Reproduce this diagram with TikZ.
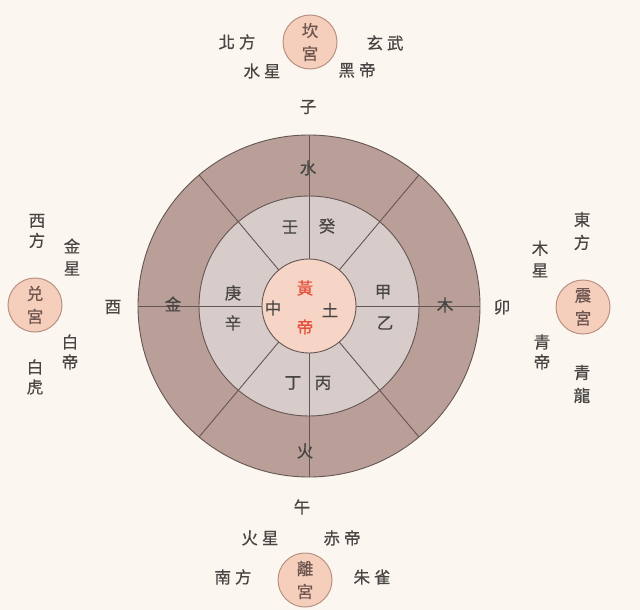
\documentclass[tikz,border=0pt]{standalone}
\usepackage{fontspec}
\usetikzlibrary{calc}
\newfontfamily\cjk[FakeBold=0.6]{Noto Sans CJK TC}
\definecolor{bgc}{RGB}{251,247,240}
\definecolor{outerc}{RGB}{185,159,152}
\definecolor{midc}{RGB}{215,204,202}
\definecolor{innerc}{RGB}{246,212,198}
\definecolor{linec}{RGB}{100,86,84}
\definecolor{txt}{RGB}{72,70,68}
\definecolor{redt}{RGB}{228,80,58}
\definecolor{palfill}{RGB}{245,206,188}
\definecolor{paldraw}{RGB}{185,145,130}
\definecolor{paltxt}{RGB}{110,86,80}
\tikzset{
  lbl/.style={font=\cjk\fontsize{16.5}{20}\selectfont, text=txt, inner sep=0pt, align=center},
  palace/.style={circle, minimum size=54pt, inner sep=0pt, fill=palfill, draw=paldraw, line width=1pt,
    font=\cjk\fontsize{16.5}{23}\selectfont, text=paltxt, align=center},
  ring/.style={draw=linec, line width=0.9pt},
  spoke/.style={draw=linec, line width=0.9pt},
  redlbl/.style={lbl, text=redt}
}
\begin{document}
\begin{tikzpicture}[x=1pt,y=-1pt]
\fill[bgc] (0,0) rectangle (640,610);
\useasboundingbox (0,0) rectangle (640,610);
\coordinate (c) at (309,306);
\fill[outerc, ring] (c) circle[radius=171];
\fill[midc, ring] (c) circle[radius=110];
\fill[innerc, ring] (c) circle[radius=47];
\foreach \a in {0,50,90,130,180,230,270,310}
  \draw[spoke] ($(c)+(\a:47)$) -- ($(c)+(\a:171)$);
% outer ring
\node[lbl] (shui) at (308,168) {水};
\node[lbl] (jin) at (173,304) {金};
\node[lbl] (mu) at (445,305) {木};
\node[lbl] (huo) at (305,451) {火};
% middle ring
\node[lbl] (ren) at (290,227) {壬};
\node[lbl] (gui) at (327,226) {癸};
\node[lbl] (geng) at (233,293) {庚};
\node[lbl] (xin) at (233,323) {辛};
\node[lbl] (jia) at (383,292) {甲};
\node[lbl] (yi) at (385,323) {乙};
\node[lbl] (ding) at (293,383) {丁};
\node[lbl] (bing) at (323,383) {丙};
% center
\node[redlbl] (huang) at (305,288) {黃};
\node[redlbl] (di) at (305,327) {帝};
\node[lbl] (zhong) at (273,308) {中};
\node[lbl] (tu) at (330,310) {土};
% top
\node[palace] (kan) at (310,42) {坎\\宮};
\node[lbl] (beifang) at (237,42) {北\hspace{4pt}方};
\node[lbl] (xuanwu) at (385,43) {玄\hspace{4pt}武};
\node[lbl] (shuixing) at (262,71) {水\hspace{4pt}星};
\node[lbl] (heidi) at (357,70) {黑\hspace{4pt}帝};
\node[lbl] (zi) at (308,107) {子};
% left
\node[palace] (dui) at (35,305) {兑\\宮};
\node[lbl] (xifang) at (37,231) {西\\方};
\node[lbl] (jinxing) at (72,257) {金\\[2pt]星};
\node[lbl] (you) at (113,307) {酉};
\node[lbl] (baidi) at (70,352) {白\\帝};
\node[lbl] (baihu) at (35,377) {白\\虎};
% right
\node[palace] (zhen) at (583,307) {震\\宮};
\node[lbl] (dongfang) at (582,231) {東\\[3pt]方};
\node[lbl] (muxing) at (540,259) {木\\[2pt]星};
\node[lbl] (mao) at (502,307) {卯};
\node[lbl] (qingdi) at (542,352) {青\\帝};
\node[lbl] (qinglong) at (582,384) {青\\[3pt]龍};
% bottom
\node[lbl] (wu) at (302,507) {午};
\node[lbl] (huoxing) at (260,538) {火\hspace{4pt}星};
\node[lbl] (chidi) at (342,538) {赤\hspace{4pt}帝};
\node[lbl] (nanfang) at (233,577) {南\hspace{4pt}方};
\node[lbl] (zhuque) at (372,577) {朱\hspace{4pt}雀};
\node[palace] (li) at (305,580) {離\\宮};
\end{tikzpicture}
\end{document}
